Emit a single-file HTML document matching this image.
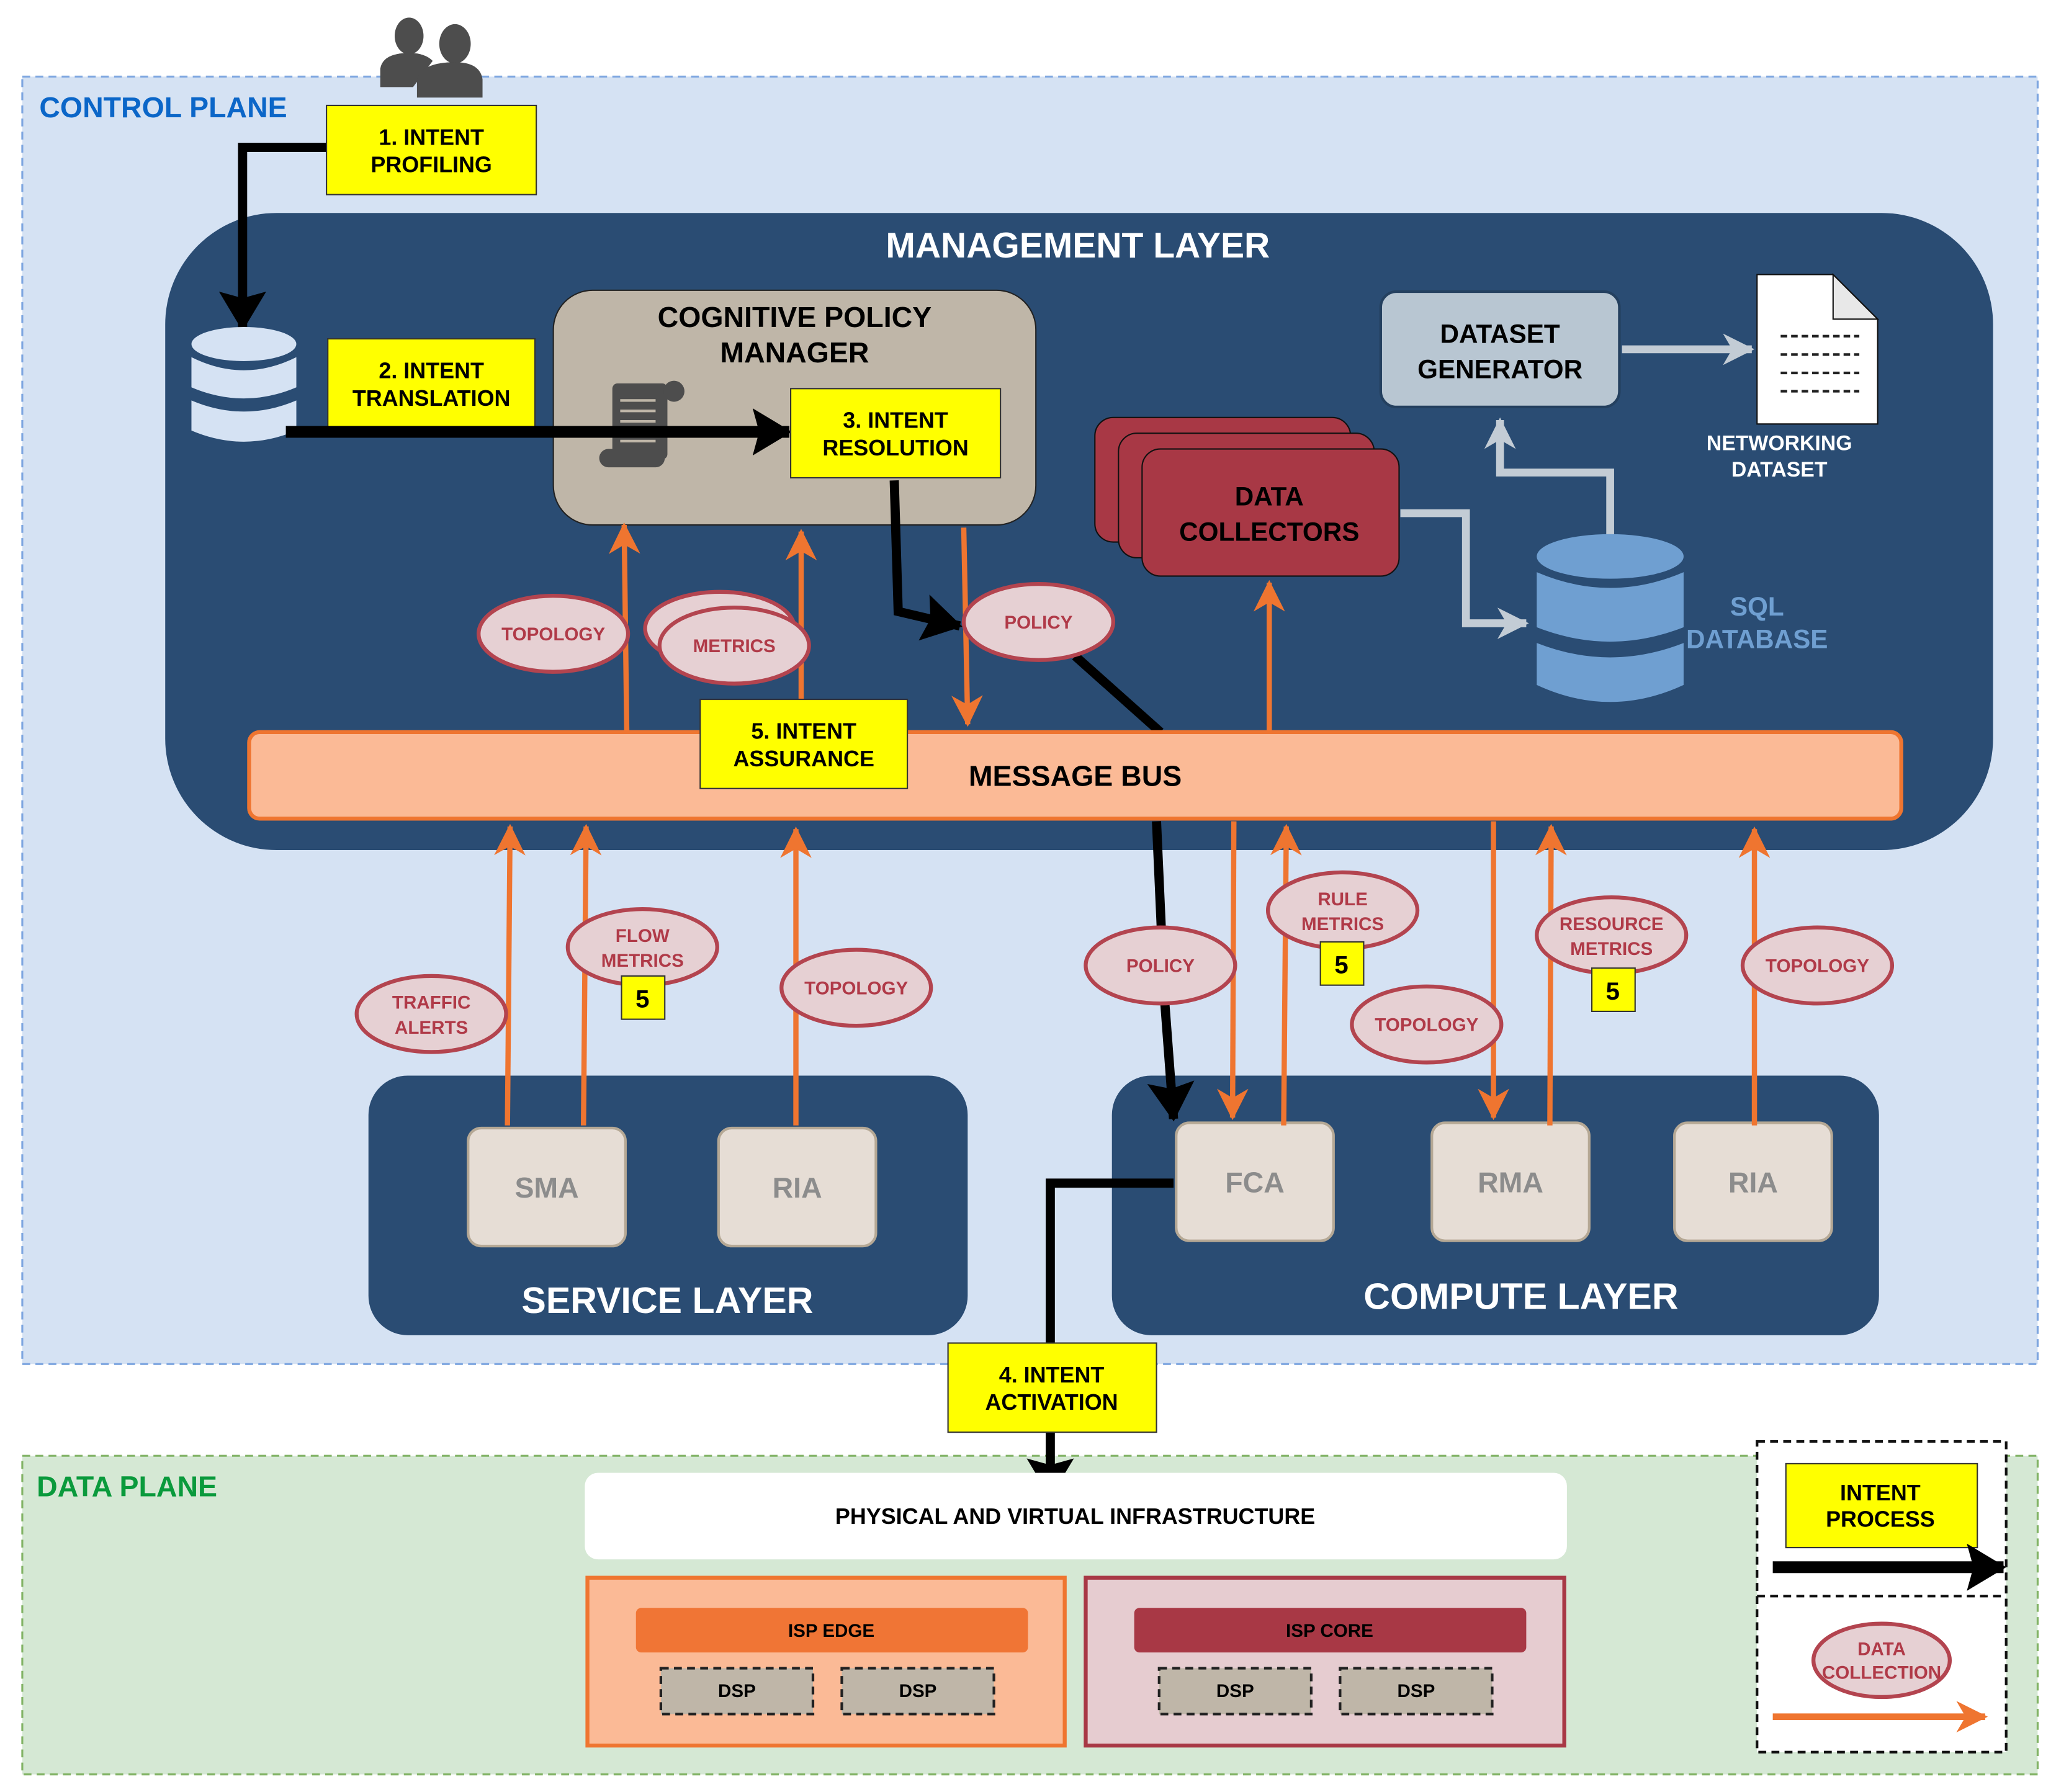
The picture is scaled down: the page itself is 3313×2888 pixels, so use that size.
<!DOCTYPE html>
<html><head><meta charset="utf-8"><style>
html,body{margin:0;padding:0;background:#fff;}
svg{display:block;}
text{font-family:"Liberation Sans",Arial,sans-serif;font-weight:bold;}
</style></head><body>
<svg width="3313" height="2888" viewBox="0 0 1568 1366" xmlns="http://www.w3.org/2000/svg">
<defs>
<marker id="ao" markerUnits="userSpaceOnUse" markerWidth="30" markerHeight="30" refX="22" refY="12" orient="auto"><path d="M0,0 L24,12 L0,24 L7,12 Z" fill="#ef7530"/></marker>
<marker id="ab" markerUnits="userSpaceOnUse" markerWidth="40" markerHeight="40" refX="28" refY="18" orient="auto"><path d="M0,0 L30,18 L0,36 L5,18 Z" fill="#000"/></marker>
<marker id="ag" markerUnits="userSpaceOnUse" markerWidth="30" markerHeight="30" refX="22" refY="12" orient="auto"><path d="M0,0 L24,12 L0,24 L7,12 Z" fill="#c3ccd5"/></marker>
</defs>
<rect x="17" y="58" width="1537" height="982" fill="#d5e2f3" stroke="#7ea6e0" stroke-width="1.5" stroke-dasharray="6,4"/>
<text x="30" y="89" font-size="22" fill="#0b66c8">CONTROL PLANE</text>
<rect x="17" y="1110" width="1537" height="243" fill="#d5e8d4" stroke="#82b366" stroke-width="1.5" stroke-dasharray="6,4"/>
<text x="28" y="1141" font-size="22" fill="#0a9a3c">DATA PLANE</text>
<g fill="#4d4d4d">
<ellipse cx="312" cy="27" rx="11" ry="14"/><path d="M290,66 L290,52 Q292,40 312,40 Q324,40 330,46 L315,66 Z"/>
<ellipse cx="347" cy="33" rx="12" ry="15"/><path d="M318,74 L318,60 Q322,47 347,47 Q366,47 368,60 L368,74 Z"/>
</g>
<rect x="126" y="162" width="1394" height="486" rx="85" fill="#2a4c73"/>
<text x="822" y="196" font-size="27" fill="#fff" text-anchor="middle">MANAGEMENT LAYER</text>
<polyline points="250,112 185,112 185,250" fill="none" stroke="#000" stroke-width="7" marker-end="url(#ab)"/>
<rect x="249" y="80" width="160" height="68" fill="#ffff00" stroke="#333" stroke-width="1"/>
<text x="329" y="110" font-size="17" text-anchor="middle">1. INTENT</text>
<text x="329" y="131" font-size="17" text-anchor="middle">PROFILING</text>
<g fill="#d5e2f3">
<ellipse cx="186" cy="262" rx="40" ry="13"/>
<path d="M146,272 Q186,292 226,272 L226,295 Q186,312 146,295 Z"/>
<path d="M146,305 Q186,322 226,305 L226,328 Q186,345 146,328 Z"/>
</g>
<rect x="422" y="221" width="368" height="179" rx="30" fill="#bfb6a8" stroke="#222" stroke-width="1"/>
<text x="606" y="249" font-size="22" text-anchor="middle">COGNITIVE POLICY</text>
<text x="606" y="276" font-size="22" text-anchor="middle">MANAGER</text>
<rect x="250" y="258" width="158" height="68" fill="#ffff00" stroke="#333"/>
<text x="329" y="288" font-size="17" text-anchor="middle">2. INTENT</text>
<text x="329" y="309" font-size="17" text-anchor="middle">TRANSLATION</text>
<g fill="#4d4d4d"><rect x="467" y="292" width="42" height="58" rx="4"/><circle cx="514" cy="298" r="8"/><rect x="457" y="342" width="50" height="14" rx="7"/></g>
<g stroke="#bfb6a8" stroke-width="2"><line x1="473" y1="305" x2="500" y2="305"/><line x1="473" y1="313" x2="500" y2="313"/><line x1="473" y1="321" x2="500" y2="321"/><line x1="473" y1="336" x2="500" y2="336"/></g>
<line x1="218" y1="329" x2="602" y2="329" stroke="#000" stroke-width="9" marker-end="url(#ab)"/>
<rect x="603" y="296" width="160" height="68" fill="#ffff00" stroke="#333"/>
<text x="683" y="326" font-size="17" text-anchor="middle">3. INTENT</text>
<text x="683" y="347" font-size="17" text-anchor="middle">RESOLUTION</text>
<rect x="1053" y="222" width="182" height="88" rx="12" fill="#b8c6d2" stroke="#24405f" stroke-width="2"/>
<text x="1144" y="261" font-size="20" text-anchor="middle">DATASET</text>
<text x="1144" y="288" font-size="20" text-anchor="middle">GENERATOR</text>
<line x1="1237" y1="266" x2="1336" y2="266" stroke="#c3ccd5" stroke-width="6" marker-end="url(#ag)"/>
<path d="M1340,209 L1398,209 L1432,243 L1432,323 L1340,323 Z" fill="#fff" stroke="#111" stroke-width="1"/>
<path d="M1398,209 L1398,243 L1432,243 Z" fill="#e8e8e8" stroke="#111" stroke-width="1"/>
<g stroke="#222" stroke-width="2" stroke-dasharray="5,3"><line x1="1358" y1="256" x2="1418" y2="256"/><line x1="1358" y1="270" x2="1418" y2="270"/><line x1="1358" y1="284" x2="1418" y2="284"/><line x1="1358" y1="298" x2="1418" y2="298"/></g>
<text x="1357" y="343" font-size="16" fill="#fff" text-anchor="middle">NETWORKING</text>
<text x="1357" y="363" font-size="16" fill="#fff" text-anchor="middle">DATASET</text>
<rect x="835" y="318" width="195" height="95" rx="14" fill="#a83845" stroke="#111"/>
<rect x="853" y="330" width="195" height="95" rx="14" fill="#a83845" stroke="#111"/>
<rect x="871" y="342" width="196" height="97" rx="14" fill="#a83845" stroke="#111"/>
<text x="968" y="385" font-size="20" text-anchor="middle">DATA</text>
<text x="968" y="412" font-size="20" text-anchor="middle">COLLECTORS</text>
<polyline points="1068,391 1118,391 1118,475 1164,475" fill="none" stroke="#c3ccd5" stroke-width="6" marker-end="url(#ag)"/>
<polyline points="1228,408 1228,360 1144,360 1144,320" fill="none" stroke="#c3ccd5" stroke-width="6" marker-end="url(#ag)"/>
<g fill="#6f9fd1">
<ellipse cx="1228" cy="424" rx="56" ry="17"/>
<path d="M1172,436 Q1228,460 1284,436 L1284,478 Q1228,500 1172,478 Z"/>
<path d="M1172,490 Q1228,512 1284,490 L1284,522 Q1228,548 1172,522 Z"/>
</g>
<text x="1340" y="469" font-size="20" fill="#6f9fd1" text-anchor="middle">SQL</text>
<text x="1340" y="494" font-size="20" fill="#6f9fd1" text-anchor="middle">DATABASE</text>
<g stroke="#ef7530" stroke-width="4" fill="none">
<line x1="478" y1="558" x2="476" y2="400" marker-end="url(#ao)"/>
<line x1="611" y1="540" x2="611" y2="405" marker-end="url(#ao)"/>
<line x1="735" y1="402" x2="738" y2="552" marker-end="url(#ao)"/>
<line x1="968" y1="558" x2="968" y2="444" marker-end="url(#ao)"/>
</g>
<polyline points="682,366 685,466 732,477" fill="none" stroke="#000" stroke-width="7" marker-end="url(#ab)"/>
<line x1="820" y1="500" x2="885" y2="558" stroke="#000" stroke-width="7"/>
<g fill="#e6d0d3" stroke="#b3444f" stroke-width="3">
<ellipse cx="422" cy="483" rx="57" ry="29"/>
<ellipse cx="549" cy="479" rx="57" ry="28"/>
<ellipse cx="560" cy="492" rx="57" ry="29"/>
<ellipse cx="792" cy="474" rx="57" ry="29"/>
</g>
<g font-size="14" fill="#b03a48" text-anchor="middle">
<text x="422" y="488">TOPOLOGY</text><text x="560" y="497">METRICS</text><text x="792" y="479">POLICY</text>
</g>
<rect x="190" y="558" width="1260" height="66" rx="8" fill="#fbba96" stroke="#ef7530" stroke-width="3"/>
<text x="820" y="599" font-size="22" text-anchor="middle">MESSAGE BUS</text>
<rect x="534" y="533" width="158" height="68" fill="#ffff00" stroke="#333"/>
<text x="613" y="563" font-size="17" text-anchor="middle">5. INTENT</text>
<text x="613" y="584" font-size="17" text-anchor="middle">ASSURANCE</text>
<rect x="281" y="820" width="457" height="198" rx="30" fill="#2a4c73"/>
<text x="509" y="1001" font-size="28" fill="#fff" text-anchor="middle">SERVICE LAYER</text>
<rect x="848" y="820" width="585" height="198" rx="30" fill="#2a4c73"/>
<text x="1160" y="998" font-size="28" fill="#fff" text-anchor="middle">COMPUTE LAYER</text>
<g fill="#e6ddd5" stroke="#b5a895" stroke-width="2">
<rect x="357" y="860" width="120" height="90" rx="10"/><rect x="548" y="860" width="120" height="90" rx="10"/>
<rect x="897" y="856" width="120" height="90" rx="10"/><rect x="1092" y="856" width="120" height="90" rx="10"/><rect x="1277" y="856" width="120" height="90" rx="10"/>
</g>
<g font-size="22" fill="#8c8c8c" text-anchor="middle">
<text x="417" y="913">SMA</text><text x="608" y="913">RIA</text><text x="957" y="909">FCA</text><text x="1152" y="909">RMA</text><text x="1337" y="909">RIA</text>
</g>
<g stroke="#ef7530" stroke-width="4" fill="none">
<line x1="387" y1="858" x2="389" y2="630" marker-end="url(#ao)"/>
<line x1="445" y1="858" x2="447" y2="630" marker-end="url(#ao)"/>
<line x1="607" y1="858" x2="607" y2="632" marker-end="url(#ao)"/>
<line x1="941" y1="626" x2="940" y2="852" marker-end="url(#ao)"/>
<line x1="979" y1="858" x2="981" y2="630" marker-end="url(#ao)"/>
<line x1="1139" y1="626" x2="1139" y2="852" marker-end="url(#ao)"/>
<line x1="1182" y1="858" x2="1183" y2="630" marker-end="url(#ao)"/>
<line x1="1338" y1="858" x2="1338" y2="632" marker-end="url(#ao)"/>
</g>
<polyline points="882,626 888,760 895,853" fill="none" stroke="#000" stroke-width="7" marker-end="url(#ab)"/>
<g fill="#e6d0d3" stroke="#b3444f" stroke-width="3">
<ellipse cx="329" cy="773" rx="57" ry="29"/><ellipse cx="490" cy="722" rx="57" ry="29"/><ellipse cx="653" cy="753" rx="57" ry="29"/>
<ellipse cx="885" cy="736" rx="57" ry="29"/><ellipse cx="1024" cy="694" rx="57" ry="29"/><ellipse cx="1088" cy="781" rx="57" ry="29"/>
<ellipse cx="1229" cy="713" rx="57" ry="29"/><ellipse cx="1386" cy="736" rx="57" ry="29"/>
</g>
<g font-size="14" fill="#b03a48" text-anchor="middle">
<text x="329" y="769">TRAFFIC</text><text x="329" y="788">ALERTS</text>
<text x="490" y="718">FLOW</text><text x="490" y="737">METRICS</text>
<text x="653" y="758">TOPOLOGY</text><text x="885" y="741">POLICY</text>
<text x="1024" y="690">RULE</text><text x="1024" y="709">METRICS</text>
<text x="1088" y="786">TOPOLOGY</text>
<text x="1229" y="709">RESOURCE</text><text x="1229" y="728">METRICS</text>
<text x="1386" y="741">TOPOLOGY</text>
</g>
<g fill="#ffff00" stroke="#333"><rect x="474" y="744" width="33" height="33"/><rect x="1007" y="718" width="33" height="33"/><rect x="1214" y="738" width="33" height="33"/></g>
<g font-size="19" text-anchor="middle"><text x="490" y="768">5</text><text x="1023" y="742">5</text><text x="1230" y="762">5</text></g>
<polyline points="895,902 801,902 801,1140" fill="none" stroke="#000" stroke-width="7" marker-end="url(#ab)"/>
<rect x="723" y="1024" width="159" height="68" fill="#ffff00" stroke="#333"/>
<text x="802" y="1054" font-size="17" text-anchor="middle">4. INTENT</text>
<text x="802" y="1075" font-size="17" text-anchor="middle">ACTIVATION</text>
<rect x="446" y="1123" width="749" height="66" rx="10" fill="#fff"/>
<text x="820" y="1162" font-size="17" text-anchor="middle">PHYSICAL AND VIRTUAL INFRASTRUCTURE</text>
<rect x="448" y="1203" width="364" height="128" fill="#fbba96" stroke="#ef7530" stroke-width="3"/>
<rect x="485" y="1226" width="299" height="34" rx="4" fill="#f07535"/>
<text x="634" y="1248" font-size="14" text-anchor="middle">ISP EDGE</text>
<rect x="828" y="1203" width="365" height="128" fill="#e6ccd0" stroke="#a83845" stroke-width="3"/>
<rect x="865" y="1226" width="299" height="34" rx="4" fill="#a83845"/>
<text x="1014" y="1248" font-size="14" text-anchor="middle">ISP CORE</text>
<g fill="#bfb6a8" stroke="#222" stroke-width="2" stroke-dasharray="6,4">
<rect x="504" y="1272" width="116" height="35"/><rect x="642" y="1272" width="116" height="35"/>
<rect x="884" y="1272" width="116" height="35"/><rect x="1022" y="1272" width="116" height="35"/>
</g>
<g font-size="14" text-anchor="middle"><text x="562" y="1294">DSP</text><text x="700" y="1294">DSP</text><text x="942" y="1294">DSP</text><text x="1080" y="1294">DSP</text></g>
<rect x="1340" y="1099" width="190" height="237" fill="#fff" stroke="#111" stroke-width="2" stroke-dasharray="6,4"/>
<line x1="1340" y1="1217" x2="1530" y2="1217" stroke="#111" stroke-width="2" stroke-dasharray="6,4"/>
<rect x="1362" y="1116" width="146" height="64" fill="#ffff00" stroke="#333"/>
<text x="1434" y="1144" font-size="17" text-anchor="middle">INTENT</text>
<text x="1434" y="1164" font-size="17" text-anchor="middle">PROCESS</text>
<line x1="1352" y1="1195" x2="1528" y2="1195" stroke="#000" stroke-width="9" marker-end="url(#ab)"/>
<ellipse cx="1435" cy="1266" rx="52" ry="28" fill="#e6d0d3" stroke="#b3444f" stroke-width="3"/>
<text x="1435" y="1262" font-size="14" fill="#b03a48" text-anchor="middle">DATA</text>
<text x="1435" y="1280" font-size="14" fill="#b03a48" text-anchor="middle">COLLECTION</text>
<line x1="1352" y1="1309" x2="1514" y2="1309" stroke="#ef7530" stroke-width="5" marker-end="url(#ao)"/>
</svg>
</body></html>
